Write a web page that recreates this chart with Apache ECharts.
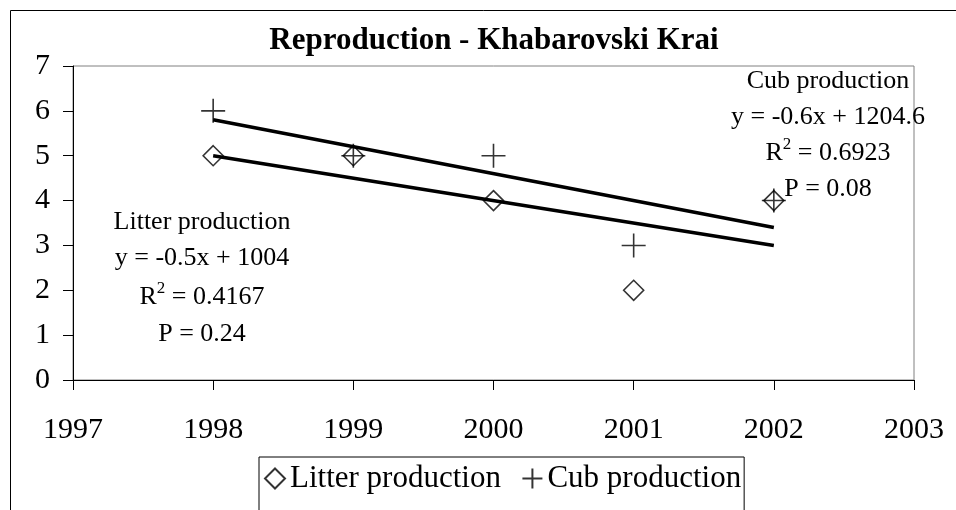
<!DOCTYPE html>
<html><head><meta charset="utf-8">
<script src="https://cdn.jsdelivr.net/npm/echarts@6/dist/echarts.min.js"></script>
<style>html,body{margin:0;padding:0;background:#fff}#c{width:956px;height:510px}</style>
</head><body><div id="c"></div>
<script>
// ---- data ----
const years = [1998, 1999, 2000, 2001, 2002];
const litter = [5, 5, 4, 2, 4];
const cub = [6, 5, 5, 3, 4];
const trendYears = [1998, 2002];
const litterTrend = [5.0, 3.0];
const cubTrend = [5.8, 3.4];
const xRange = [1997, 2003];
const yRange = [0, 7];
const titleText = 'Reproduction - Khabarovski Krai';
const litterNote = ['Litter production', 'y = -0.5x + 1004', '0.4167', 'P = 0.24'];
const cubNote = ['Cub production', 'y = -0.6x + 1204.6', '0.6923', 'P = 0.08'];

const FONT = '"Liberation Serif","Times New Roman",serif';
const PLUS = 'path://M10,0L10,20M0,10L20,10';

const chart = echarts.init(document.getElementById('c'), null, {renderer: 'canvas'});

function noteTexts(lines, cx, ys) {
  const rich = {
    r: {fontFamily: FONT, fontSize: 26, color: '#000'},
    s: {fontFamily: FONT, fontSize: 17, color: '#000', padding: [0, 0, 16, 0]}
  };
  return [
    {type: 'text', x: cx, y: ys[0], style: {text: lines[0], font: '26px ' + FONT, fill: '#000', align: 'center', verticalAlign: 'middle'}},
    {type: 'text', x: cx, y: ys[1], style: {text: lines[1], font: '26px ' + FONT, fill: '#000', align: 'center', verticalAlign: 'middle'}},
    {type: 'text', x: cx, y: ys[2], style: {text: '{r|R}{s|2}{r| = ' + lines[2] + '}', rich: rich, align: 'center', verticalAlign: 'middle'}},
    {type: 'text', x: cx, y: ys[3], style: {text: lines[3], font: '26px ' + FONT, fill: '#000', align: 'center', verticalAlign: 'middle'}}
  ];
}

const option = {
  animation: false,
  backgroundColor: '#fff',
  textStyle: {fontFamily: FONT},
  grid: {left: 73, top: 66, right: 42, bottom: 130, show: true, borderColor: '#808080', borderWidth: 1, backgroundColor: 'transparent'},
  xAxis: {
    type: 'value', min: xRange[0], max: xRange[1], interval: 1,
    axisLine: {lineStyle: {color: '#000', width: 1}},
    axisTick: {show: true, length: 10, inside: false, lineStyle: {color: '#000'}},
    axisLabel: {fontFamily: FONT, fontSize: 30, color: '#000', margin: 35, formatter: v => String(v)},
    splitLine: {show: false}
  },
  yAxis: {
    type: 'value', min: yRange[0], max: yRange[1], interval: 1,
    axisLine: {show: true, lineStyle: {color: '#000', width: 1}},
    axisTick: {show: true, length: 10, inside: false, lineStyle: {color: '#000'}},
    axisLabel: {fontFamily: FONT, fontSize: 30, color: '#000', margin: 23},
    splitLine: {show: false}
  },
  legend: {
    data: ['Litter production', 'Cub production'],
    left: 259, top: 457,
    orient: 'horizontal',
    borderColor: '#000', borderWidth: 1,
    padding: [6, 3, 40, 5],
    itemGap: 19, itemWidth: 20, itemHeight: 20,
    textStyle: {fontFamily: FONT, fontSize: 31, color: '#000'}
  },
  series: [
    {
      name: 'Litter trend', type: 'line', symbol: 'none', silent: true,
      data: trendYears.map((x, i) => [x, litterTrend[i]]),
      lineStyle: {color: '#000', width: 3.5}, z: 2
    },
    {
      name: 'Cub trend', type: 'line', symbol: 'none', silent: true,
      data: trendYears.map((x, i) => [x, cubTrend[i]]),
      lineStyle: {color: '#000', width: 3.5}, z: 2
    },
    {
      name: 'Litter production', type: 'scatter', symbol: 'diamond', symbolSize: 20,
      data: years.map((x, i) => [x, litter[i]]),
      itemStyle: {color: 'rgba(255,255,255,0)', borderColor: '#000', borderWidth: 1.6}, z: 3
    },
    {
      name: 'Cub production', type: 'scatter', symbol: PLUS, symbolSize: 24,
      data: years.map((x, i) => [x, cub[i]]),
      itemStyle: {color: 'none', borderColor: '#000', borderWidth: 1.6}, z: 4
    }
  ],
  graphic: [
    {type: 'rect', shape: {x: 10.5, y: 10.5, width: 1200, height: 900}, style: {fill: 'none', stroke: '#000', lineWidth: 1}, silent: true, z: -1},
    {type: 'text', x: 494, y: 41, style: {text: titleText, font: 'bold 31px ' + FONT, fill: '#000', align: 'center', verticalAlign: 'middle'}},
    ...noteTexts(litterNote, 202, [222, 258, 297, 334]),
    ...noteTexts(cubNote, 828, [81, 117, 153, 189])
  ]
};
chart.setOption(option);
</script>
</body></html>
